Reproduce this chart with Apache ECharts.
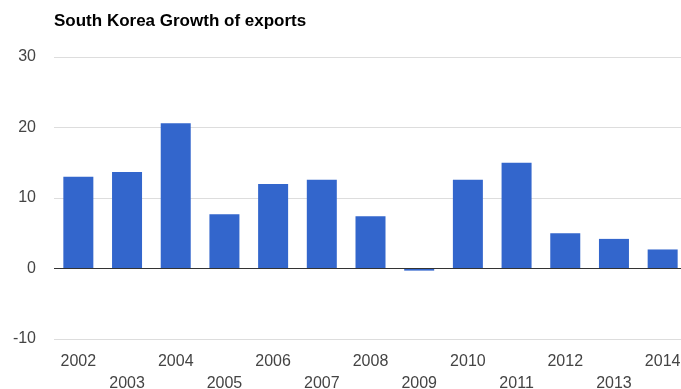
<!DOCTYPE html>
<html>
<head>
<meta charset="utf-8">
<script src="https://cdn.jsdelivr.net/npm/echarts@6/dist/echarts.min.js"></script>
<style>
  html, body { margin: 0; padding: 0; background: #fff; }
  #chart { width: 681px; height: 389px; }
</style>
</head>
<body>
<div id="chart"></div>
<script>
// Annual growth of South Korean exports, percent
const years = ['2002', '2003', '2004', '2005', '2006', '2007', '2008',
               '2009', '2010', '2011', '2012', '2013', '2014'];
const growth = [13.0, 13.7, 20.6, 7.7, 12.0, 12.6, 7.4, -0.3, 12.6, 15.0, 5.0, 4.2, 2.7];
const yTicks = { min: -10, max: 30, step: 10 };

const chart = echarts.init(document.getElementById('chart'), null, { renderer: 'canvas' });

chart.setOption({
  animation: false,
  backgroundColor: '#ffffff',
  title: {
    text: 'South Korea Growth of exports',
    left: 49,
    top: 8,
    textStyle: {
      fontFamily: 'Liberation Sans, Arial, sans-serif',
      fontSize: 17,
      fontWeight: 'bold',
      color: '#000000'
    }
  },
  grid: {
    left: 54, right: -6, top: 57, bottom: 50,
    containLabel: false,
    outerBoundsMode: 'none'
  },
  xAxis: {
    type: 'category',
    data: years,
    axisLine: { show: false, onZero: false },
    axisTick: { show: false },
    splitLine: { show: false },
    axisLabel: {
      interval: 0,
      margin: 12,
      color: '#444444',
      fontFamily: 'Liberation Sans, Arial, sans-serif',
      fontSize: 16,
      lineHeight: 22,
      formatter: (v, i) => (i % 2 ? '\n' + v : v)
    }
  },
  yAxis: {
    type: 'value',
    min: yTicks.min,
    max: yTicks.max,
    interval: yTicks.step,
    axisLine: { show: false },
    axisTick: { show: false },
    splitLine: { lineStyle: { color: '#dddddd', width: 1 } },
    axisLabel: {
      margin: 18,
      color: '#444444',
      fontFamily: 'Liberation Sans, Arial, sans-serif',
      fontSize: 16
    }
  },
  series: [{
    type: 'bar',
    data: growth,
    barWidth: 30,
    itemStyle: { color: '#3366cc' },
    markLine: {
      silent: true,
      symbol: 'none',
      label: { show: false },
      lineStyle: { color: '#333333', width: 1, type: 'solid' },
      data: [{ yAxis: 0 }]
    }
  }]
});
</script>
</body>
</html>
